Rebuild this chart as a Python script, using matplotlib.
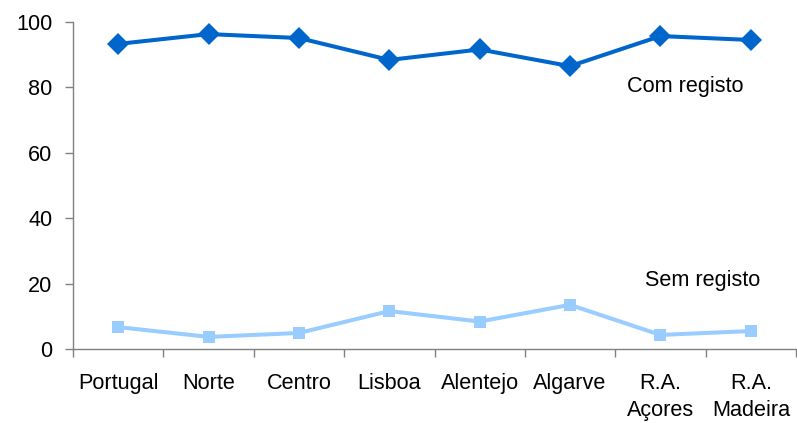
import matplotlib
matplotlib.use("Agg")
import matplotlib.pyplot as plt
import numpy as np

categories = ["Portugal", "Norte", "Centro", "Lisboa", "Alentejo", "Algarve", "R.A.\nAçores", "R.A.\nMadeira"]
com_registo = [93.3, 96.3, 95.1, 88.4, 91.6, 86.5, 95.7, 94.5]
sem_registo = [6.7, 3.7, 4.9, 11.6, 8.4, 13.5, 4.3, 5.5]
yticks = [0, 20, 40, 60, 80, 100]

plt.rcParams['font.family'] = ['Liberation Sans', 'DejaVu Sans']
FS = 15.6

fig = plt.figure(figsize=(7.97, 4.23), dpi=100)
ax = fig.add_axes([73/797, 1-349/423, (796-73)/797, (349-22)/423])

x = np.arange(len(categories))
ax.plot(x, com_registo, color="#0066CC", lw=2.9, marker="D", ms=11, mew=0, zorder=3, clip_on=False)
ax.plot(x, sem_registo, color="#99CCFF", lw=2.9, marker="s", ms=9, mew=0, zorder=3, clip_on=False)

ax.set_xlim(-0.5, len(categories) - 0.5)
ax.set_ylim(0, 100)
ax.set_yticks(yticks)
ax.set_xticks(x)
ax.set_xticklabels(categories, fontsize=FS, linespacing=1.4)
ax.set_xticks(np.arange(len(categories) + 1) - 0.5, minor=True)
ax.tick_params(axis='x', which='major', length=0, pad=17)
ax.tick_params(axis='x', which='minor', length=6, width=1, color="#808080", direction='out')
ax.tick_params(axis='y', length=6, width=1, color="#808080", direction='out', pad=9, labelsize=FS)

for s in ['top', 'right']:
    ax.spines[s].set_visible(False)
for s in ['left', 'bottom']:
    ax.spines[s].set_color("#808080")
    ax.spines[s].set_linewidth(1)

ax.text(6.27, 80.4, "Com registo", fontsize=FS, ha="center", va="center")
ax.text(6.47, 21.1, "Sem registo", fontsize=FS, ha="center", va="center")

fig.savefig("out.png", dpi=100)
